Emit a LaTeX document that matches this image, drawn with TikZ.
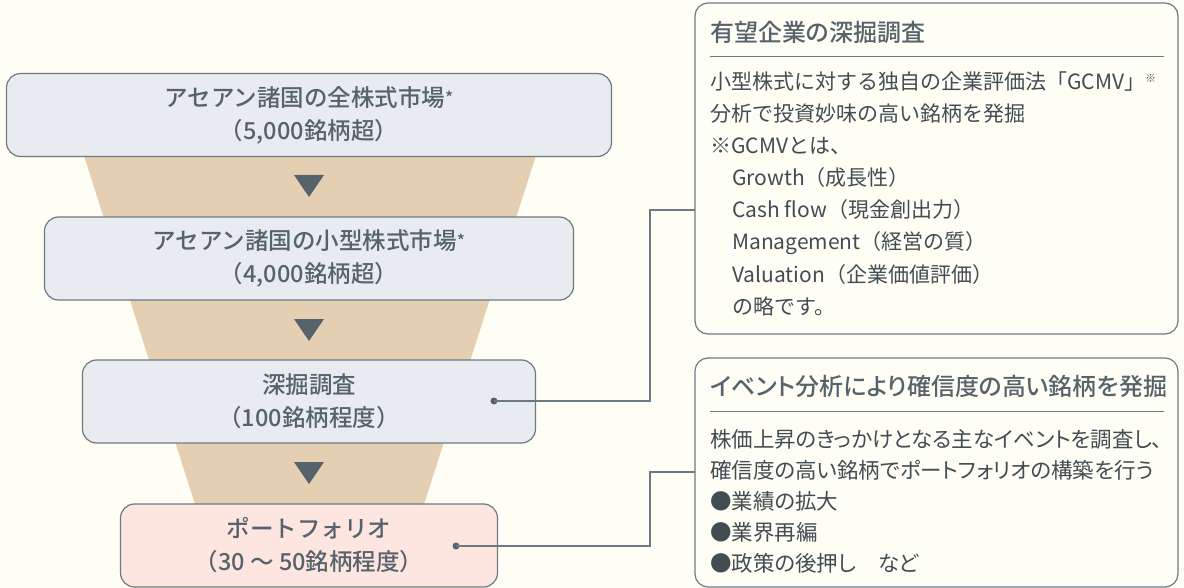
\documentclass[tikz,border=0pt]{standalone}
\usepackage{fontspec}
\setmainfont{Noto Sans CJK JP}
\newfontfamily\jpMed{Noto Sans CJK JP Medium}
\newfontfamily\jpMedP{Noto Sans CJK JP Medium}[RawFeature=+palt]
\newfontfamily\jpBodyP{Noto Sans CJK JP}[RawFeature=+palt]
\definecolor{bgCream}{HTML}{FEFEF5}
\definecolor{funnelTan}{HTML}{E5CFB3}
\definecolor{stageFill}{HTML}{E8ECF0}
\definecolor{folioFill}{HTML}{FDE5E0}
\definecolor{edgeGray}{HTML}{6E7A82}
\definecolor{inkGray}{HTML}{56636B}
\definecolor{textGray}{HTML}{424C53}
\newcommand\starNote{{\fontsize{17}{17}\selectfont\raisebox{2pt}{*}}}
\newcommand\refNote{{\fontsize{11}{11}\selectfont\raisebox{7pt}{※}}}
\begin{document}
\begin{tikzpicture}
[x=1pt,y=-1pt,
  stageDecorate/.style={draw=edgeGray,line width=1.2pt,rounded corners=14pt,
    minimum height=83pt,inner sep=0pt,align=center,text=inkGray,
    font=\jpMed\fontsize{23.5}{33}\selectfont},
  noteDecorate/.style={draw=edgeGray,line width=1.2pt,rounded corners=13pt,
    minimum width=483pt,inner sep=0pt},
  titleDecorate/.style={anchor=base west,inner sep=0pt,text=inkGray,
    font=\jpMedP\fontsize{24}{24}\selectfont},
  bodyDecorate/.style={anchor=base west,inner sep=0pt,text=textGray,
    font=\fontsize{21}{21}\selectfont},
  bulletDecorate/.style={bodyDecorate,font=\jpBodyP\fontsize{21.5}{21.5}\selectfont},
  ruleDecorate/.style={draw=edgeGray,line width=0.9pt},
  lineDecorate/.style={-,draw=edgeGray,line width=1.2pt},
  dotDecorate/.style={shape=circle,fill=inkGray,inner sep=0pt,minimum size=7pt}]
\useasboundingbox (0,0) rectangle (1184,588);
\fill[bgCream] (0,0) rectangle (1184,588);
%% funnel behind the stages
\fill[funnelTan] (79,140) -- (541,140) -- (419,520) -- (200,520) -- cycle;
%% stages of the funnel
\foreach \nodename/\y/\w/\col/\txt in {
  allMarket/115/605/stageFill/{アセアン諸国の全株式市場\starNote\\（5,000銘柄超）},
  smallMarket/258.5/529/stageFill/{アセアン諸国の小型株式市場\starNote\\（4,000銘柄超）},
  deepDive/401.5/453/stageFill/{深掘調査\\（100銘柄程度）},
  folio/545.5/377/folioFill/{ポートフォリオ\\（30 〜 50銘柄程度）}}
{
  \node (\nodename) at (309,\y) [stageDecorate,minimum width=\w pt,fill=\col] {\txt};
}
%% arrows between the stages
\foreach \ty in {175,319,462}
{
  \fill[inkGray] (294,\ty) -- (324,\ty) -- (309,\ty+22) -- cycle;
}
%% note boxes
\node (gcmv) at (936.5,168.5) [noteDecorate,minimum height=331pt] {};
\node (event) at (936.5,472.5) [noteDecorate,minimum height=229pt] {};
\node (gcmvTitle) at (710,41.5) [titleDecorate] {有望企業の深掘調査};
\node (eventTitle) at (710,395.5) [titleDecorate] {イベント分析により確信度の高い銘柄を発掘};
\draw[ruleDecorate] (710,56) -- (1164,56);
\draw[ruleDecorate] (710,411) -- (1164,411);
\foreach \i/\x/\txt in {
  0/710/{小型株式に対する独自の企業評価法「GCMV」\refNote},
  1/710/{分析で投資妙味の高い銘柄を発掘},
  2/710/{※GCMVとは、},
  3/732/{Growth（成長性）},
  4/732/{Cash flow（現金創出力）},
  5/732/{Management（経営の質）},
  6/732/{Valuation（企業価値評価）},
  7/732/{の略です。}}
{
  \node (gcmvLine\i) at (\x,89.5+32.1*\i) [bodyDecorate] {\txt};
}
\foreach \i/\txt in {
  0/{株価上昇のきっかけとなる主なイベントを調査し、},
  1/{確信度の高い銘柄でポートフォリオの構築を行う},
  2/{●業績の拡大},
  3/{●業界再編},
  4/{●政策の後押し　など}}
{
  \node (eventLine\i) at (710,447.5+31*\i) [bulletDecorate] {\txt};
}
%% connectors from the stages to the notes
\node (deepDot) at (494,401) [dotDecorate] {};
\node (folioDot) at (456,546) [dotDecorate] {};
\coordinate (gcmvIn) at (695,210);
\coordinate (eventIn) at (695,472);
\draw[lineDecorate] (deepDot.center) -- ++(156,0) |- (gcmvIn);
\draw[lineDecorate] (folioDot.center) -- ++(194,0) |- (eventIn);
\end{tikzpicture}
\end{document}
